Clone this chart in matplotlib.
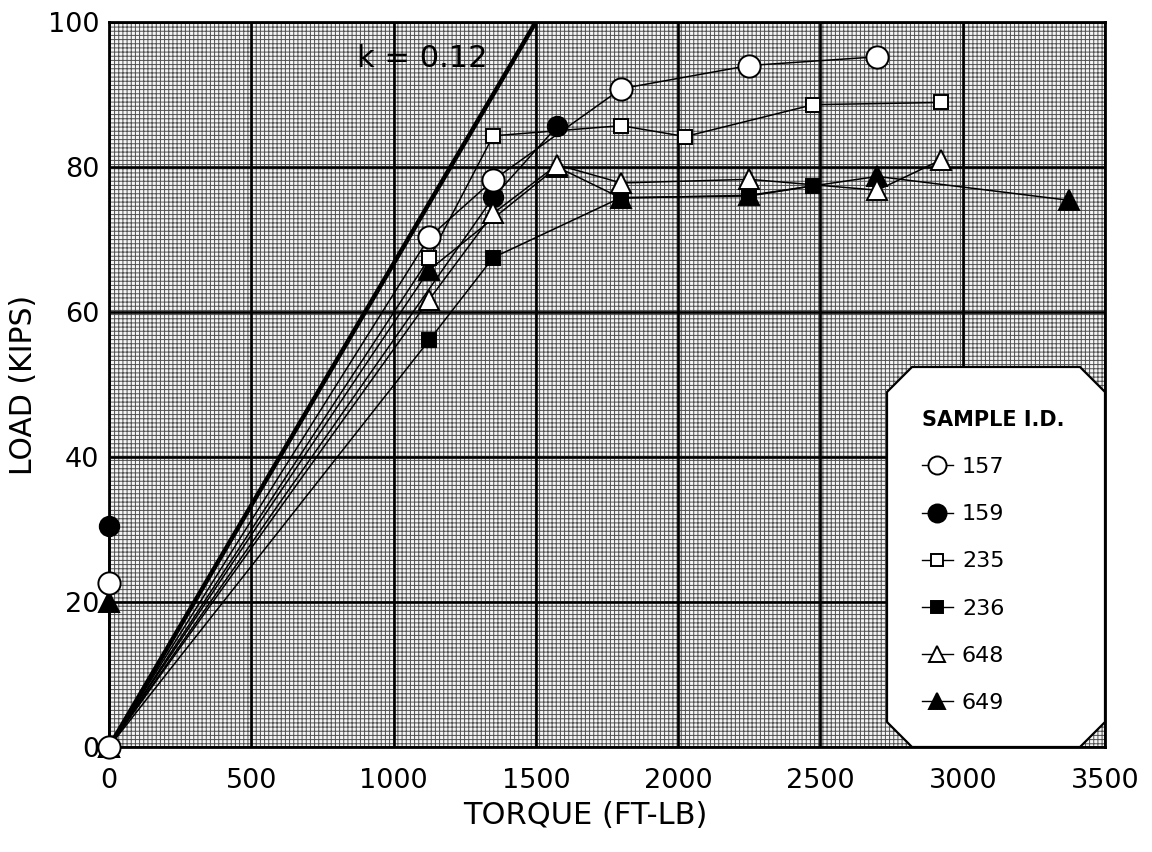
import matplotlib
matplotlib.use('Agg')
import matplotlib.pyplot as plt
from matplotlib.lines import Line2D
from matplotlib.patches import Rectangle, Polygon

plt.rcParams['font.family'] = ['DejaVu Sans']
plt.rcParams['hatch.linewidth'] = 0.7
plt.rcParams['hatch.color'] = '#505050'

# ---------------- data ----------------
sample_ids = ['157', '159', '235', '236', '648', '649']

torque_157 = [0, 0, 1125, 1350, 1800, 2250, 2700]
load_157 = [22.6, 0, 70.3, 78.2, 90.8, 94.0, 95.2]

torque_159 = [0, 0, 1350, 1575]
load_159 = [30.5, 0, 75.8, 85.6]

torque_235 = [0, 1125, 1350, 1800, 2025, 2475, 2925]
load_235 = [0, 67.4, 84.3, 85.7, 84.2, 88.6, 88.9]

torque_236 = [0, 1125, 1350, 1800, 2250, 2475]
load_236 = [0, 56.1, 67.5, 75.8, 76.0, 77.4]

torque_648 = [0, 1125, 1350, 1575, 1800, 2250, 2700, 2925]
load_648 = [0, 61.7, 73.6, 80.3, 77.8, 78.3, 76.8, 81.0]

torque_649 = [0, 0, 1125, 1575, 1800, 2250, 2700, 3375]
load_649 = [20.0, 0, 65.8, 80.0, 75.7, 76.1, 78.7, 75.4]

k_torque = [0, 1500]
k_load = [0, 100]
k_label = 'k = 0.12'

x_ticks = [0, 500, 1000, 1500, 2000, 2500, 3000, 3500]
y_ticks = [0, 20, 40, 60, 80, 100]

# ---------------- figure ----------------
fig = plt.figure(figsize=(11.52, 8.52), dpi=100)
ax = fig.add_axes([109 / 1152, 1 - 747 / 852, 996 / 1152, 725 / 852])

ax.set_xlim(0, 3500)
ax.set_ylim(0, 100)

# stippled background
ax.add_patch(Rectangle((0, 0), 1, 1, transform=ax.transAxes, facecolor='#f4f4f4',
                       hatch='++++', edgecolor='#505050', lw=0, zorder=0))

ax.set_axisbelow(True)
ax.grid(True, color='black', lw=1.9)
ax.set_xticks(x_ticks)
ax.set_yticks(y_ticks)
ax.tick_params(length=0, labelsize=19.5)
ax.tick_params(axis='x', pad=15)
ax.tick_params(axis='y', pad=7)
for s in ax.spines.values():
    s.set_linewidth(2.0)

# k line
ax.plot(k_torque, k_load, color='black', lw=3.2, zorder=2, solid_capstyle='butt')
ax.text(870, 93.8, k_label, fontsize=22, ha='left', va='baseline', zorder=2)

styles = {
    '157': dict(marker='o', mfc='white', ms=16, z=8),
    '159': dict(marker='o', mfc='black', ms=14, z=5),
    '235': dict(marker='s', mfc='white', ms=9.5, z=6),
    '236': dict(marker='s', mfc='black', ms=9.5, z=4),
    '648': dict(marker='^', mfc='white', ms=14, z=7),
    '649': dict(marker='^', mfc='black', ms=14, z=3),
}
series = {
    '157': (torque_157, load_157),
    '159': (torque_159, load_159),
    '235': (torque_235, load_235),
    '236': (torque_236, load_236),
    '648': (torque_648, load_648),
    '649': (torque_649, load_649),
}
for sid in sample_ids:
    st = styles[sid]
    xs, ys = series[sid]
    ax.plot(xs, ys, color='black', lw=1.1, marker=st['marker'], ms=st['ms'],
            mfc=st['mfc'], mec='black', mew=1.4, zorder=st['z'], clip_on=False)

ax.set_xlabel('TORQUE (FT-LB)', fontsize=22)
ax.set_ylabel('LOAD (KIPS)', fontsize=21.5)
ax.xaxis.set_label_coords(0.478, -0.074)
ax.yaxis.set_label_coords(-0.071, 0.5)

# legend box with chamfered corners
x0, x1 = (887 - 109) / 996, 1.0
y0, y1 = 0.0, (747 - 367) / 725
cx, cy = 25 / 996, 25 / 725
poly = Polygon([(x0 + cx, y1), (x1 - cx, y1), (x1, y1 - cy), (x1, y0 + cy),
                (x1 - cx, y0), (x0 + cx, y0), (x0, y0 + cy), (x0, y1 - cy)],
               closed=True, transform=ax.transAxes, facecolor='white',
               edgecolor='black', lw=1.6, zorder=9, clip_on=False)
ax.add_patch(poly)

leg_ms = {'157': 13, '159': 13, '235': 9, '236': 9, '648': 12, '649': 12}
handles = [Line2D([], [], color='black', lw=1.0, marker=styles[s]['marker'],
                  ms=leg_ms[s], mfc=styles[s]['mfc'], mec='black', mew=1.4)
           for s in sample_ids]
leg = ax.legend(handles, sample_ids, title='SAMPLE I.D.', loc='upper left',
                bbox_to_anchor=(0.805, 0.48), frameon=False, fontsize=16,
                title_fontsize=15, handlelength=1.4, handletextpad=0.4,
                labelspacing=1.22, borderpad=0, alignment='left')
leg.get_title().set_fontweight('bold')
leg.set_zorder(10)

fig.savefig('out.png', dpi=100)
